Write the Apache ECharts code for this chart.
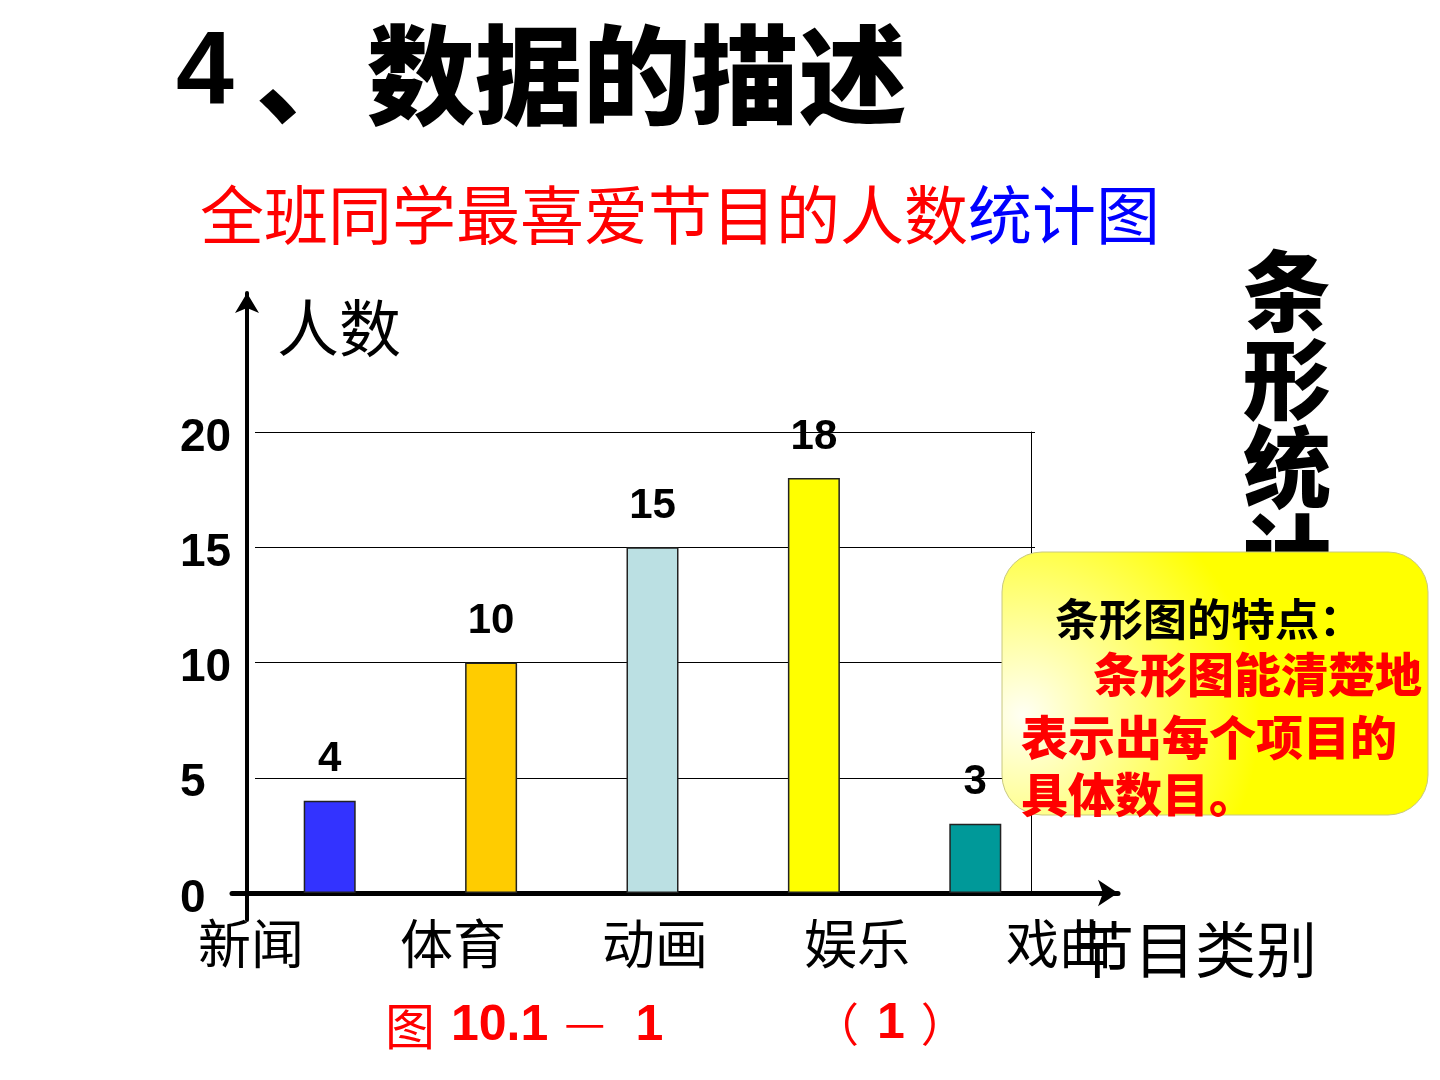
<!DOCTYPE html>
<html>
<head>
<meta charset="utf-8">
<title>全班同学最喜爱节目的人数统计图</title>
<script src="https://cdn.jsdelivr.net/npm/echarts@6/dist/echarts.min.js"></script>
<style>
  html, body { margin: 0; padding: 0; background: #fff; }
  #chart { width: 1440px; height: 1080px; }
</style>
</head>
<body>
<div id="chart"></div>
<script>
// 数据
const categories = ['新闻', '体育', '动画', '娱乐', '戏曲']
const counts = [4, 10, 15, 18, 3]
const barColors = ['#3333FF', '#FFCC00', '#BBE0E3', '#FFFF00', '#009999']
const yMax = 20
const yStep = 5

const cjk = '"Noto Sans CJK SC", sans-serif'
const latin = '"Liberation Sans", Arial, sans-serif'

const chart = echarts.init(document.getElementById('chart'))

const barData = counts.map((v, i) => ({
  value: v,
  itemStyle: { color: barColors[i] }
}))

const option = {
  backgroundColor: '#fff',
  animation: false,
  title: [
    {
      left: 171, top: 16, z: 5,
      text: '{n|4}{g|、}{c|数据的描述}',
      textStyle: {
        rich: {
          n: { fontFamily: latin, fontWeight: 'bold', fontSize: 104, color: '#000' },
          g: { fontFamily: cjk, fontWeight: 900, fontSize: 108, color: '#000', padding: [0, 3, 0, 22] },
          c: { fontFamily: cjk, fontWeight: 900, fontSize: 108, color: '#000' }
        }
      }
    },
    {
      left: 195, top: 178, z: 5,
      text: '{r|全班同学最喜爱节目的人数}{b|统计图}',
      textStyle: {
        rich: {
          r: { fontFamily: cjk, fontWeight: 'normal', fontSize: 64, color: '#FF0000' },
          b: { fontFamily: cjk, fontWeight: 'normal', fontSize: 64, color: '#0000FF' }
        }
      }
    },
    {
      left: 272, top: 292, z: 5,
      text: '人数',
      textStyle: { fontFamily: cjk, fontSize: 62, fontWeight: 'normal', color: '#000' }
    },
    {
      left: 1068, top: 914, z: 5,
      text: '节目类别',
      textStyle: { fontFamily: cjk, fontSize: 61, fontWeight: 'normal', color: '#000' }
    },
    {
      left: 380, top: 994, z: 5,
      text: '{c|图}{n|10.1}{d|—}{m|1}',
      textStyle: {
        rich: {
          c: { fontFamily: cjk, fontWeight: 'normal', fontSize: 50, color: '#FF0000' },
          d: { fontFamily: cjk, fontWeight: 'normal', fontSize: 46, color: '#FF0000', padding: [0, 30, 8, 16] },
          n: { fontFamily: latin, fontWeight: 'bold', fontSize: 50, color: '#FF0000', padding: [0, 0, 0, 16] },
          m: { fontFamily: latin, fontWeight: 'bold', fontSize: 50, color: '#FF0000' }
        }
      }
    },
    {
      left: 808, top: 994, z: 5,
      text: '{c|（}{n|1}{c|）}',
      textStyle: {
        rich: {
          c: { fontFamily: cjk, fontWeight: 'normal', fontSize: 46, color: '#FF0000' },
          n: { fontFamily: latin, fontWeight: 'bold', fontSize: 50, color: '#FF0000', padding: [0, 16, 0, 18] }
        }
      }
    },
    // 右侧竖排标题 (被黄色框挡住一部分)
    {
      left: 1238, top: 242, z: 1,
      text: '条\n形\n统\n计\n图',
      textStyle: { fontFamily: cjk, fontSize: 88, fontWeight: 900, lineHeight: 88, color: '#000' }
    },
    // 黄色框里的文字
    {
      left: 1050, top: 592, z: 20,
      text: '条形图的特点：',
      textStyle: {
        fontFamily: cjk, fontSize: 44, fontWeight: 'bold', color: '#000',
        textShadowColor: '#999', textShadowOffsetX: 3, textShadowOffsetY: 3
      }
    },
    {
      left: 1088, top: 646, z: 20,
      text: '条形图能清楚地',
      textStyle: {
        fontFamily: cjk, fontSize: 47, fontWeight: 900, color: '#FF0000',
        textShadowColor: '#5a1010', textShadowOffsetX: 3, textShadowOffsetY: 3
      }
    },
    {
      left: 1016, top: 704, z: 20,
      text: '表示出每个项目的\n具体数目。',
      textStyle: {
        fontFamily: cjk, fontSize: 47, fontWeight: 900, lineHeight: 57, color: '#FF0000',
        textShadowColor: '#5a1010', textShadowOffsetX: 3, textShadowOffsetY: 3
      }
    }
  ],
  graphic: [
    {
      type: 'rect', z: 10,
      shape: { x: 1002, y: 552, width: 426, height: 263, r: 40 },
      style: {
        fill: new echarts.graphic.RadialGradient(0.05, 0.62, 0.9, [
          { offset: 0, color: '#FFFFF4' },
          { offset: 0.45, color: '#FFFF88' },
          { offset: 1, color: '#FFFF00' }
        ]),
        stroke: '#c8c880',
        lineWidth: 1
      }
    }
  ],
  grid: [
    // 0: 坐标轴 (带箭头)
    { left: 232, right: 322, top: 293, bottom: 160 },
    // 1: 网格线
    { left: 255, right: 405, top: 432, bottom: 187 },
    // 2: 条形
    { left: 249, right: 384, top: 432, bottom: 187 },
    // 3: 横轴类别文字
    { left: 150, right: 280, top: 432, bottom: 187 },
    // 4: 纵轴刻度文字 (略低于网格线)
    { left: 255, right: 405, top: 438, bottom: 181 }
  ],
  xAxis: [
    {
      gridIndex: 0, type: 'value', min: 0, max: 1,
      axisLine: {
        show: true, onZero: true,
        symbol: ['none', 'arrow'], symbolSize: [20, 20],
        lineStyle: { color: '#000', width: 5 }
      },
      axisTick: { show: false }, axisLabel: { show: false }, splitLine: { show: false }
    },
    { gridIndex: 1, type: 'value', min: 0, max: 1, show: false },
    { gridIndex: 2, type: 'category', data: categories, show: false },
    {
      gridIndex: 3, type: 'category', data: categories,
      axisLine: { show: false }, axisTick: { show: false }, splitLine: { show: false },
      axisLabel: { margin: 24, fontFamily: cjk, fontSize: 53, color: '#000' }
    },
    { gridIndex: 4, type: 'value', min: 0, max: 1, show: false }
  ],
  yAxis: [
    {
      gridIndex: 0, type: 'value', min: -27, max: 600, offset: -15,
      axisLine: {
        show: true, onZero: false,
        symbol: ['none', 'arrow'], symbolSize: [18, 20],
        lineStyle: { color: '#000', width: 4 }
      },
      axisTick: { show: false }, axisLabel: { show: false }, splitLine: { show: false }
    },
    {
      gridIndex: 1, type: 'value', min: 0, max: yMax, interval: yStep,
      axisLine: { show: false }, axisTick: { show: false }, axisLabel: { show: false },
      splitLine: { show: true, lineStyle: { color: '#000', width: 1 } }
    },
    {
      gridIndex: 1, type: 'value', min: 0, max: yMax, position: 'right', offset: -4,
      axisLine: { show: true, lineStyle: { color: '#000', width: 1 } },
      axisTick: { show: false }, axisLabel: { show: false }, splitLine: { show: false }
    },
    { gridIndex: 2, type: 'value', min: 0, max: yMax, show: false },
    { gridIndex: 3, type: 'value', min: 0, max: yMax, show: false },
    {
      gridIndex: 4, type: 'value', min: 0, max: yMax, interval: yStep,
      axisLine: { show: false }, axisTick: { show: false }, splitLine: { show: false },
      axisLabel: {
        align: 'left', margin: 75,
        fontFamily: latin, fontWeight: 'bold', fontSize: 46, color: '#000'
      }
    }
  ],
  series: [
    {
      type: 'bar', xAxisIndex: 2, yAxisIndex: 3, z: 3,
      barWidth: 52,
      data: barData,
      itemStyle: { borderColor: '#222', borderWidth: 1.5 },
      label: {
        show: true, position: 'top', distance: 20,
        fontFamily: latin, fontWeight: 'bold', fontSize: 42, color: '#000'
      }
    }
  ]
}

chart.setOption(option)
</script>
</body>
</html>
